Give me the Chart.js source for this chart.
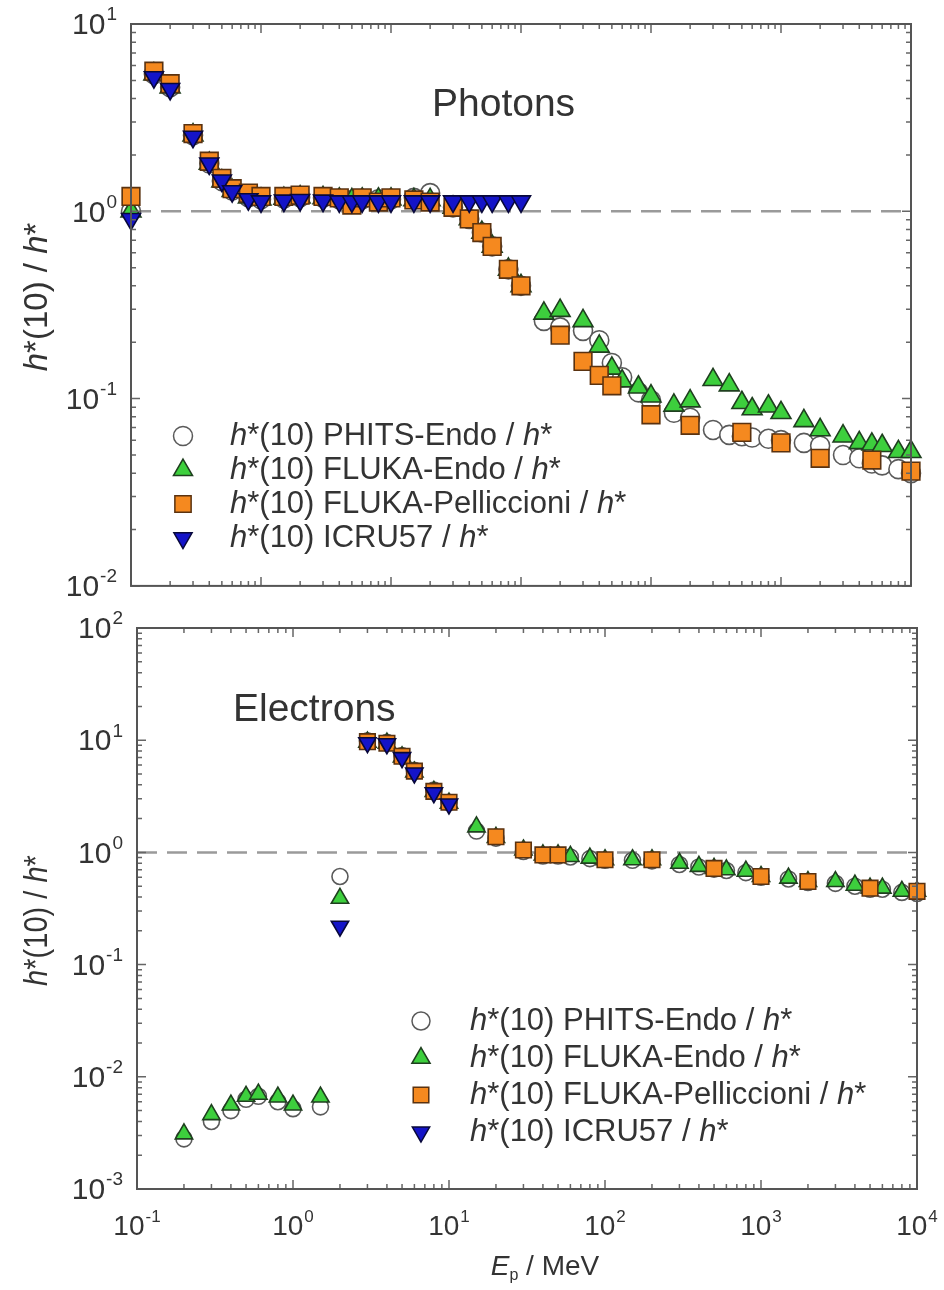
<!DOCTYPE html>
<html>
<head>
<meta charset="utf-8">
<script src="https://cdn.jsdelivr.net/npm/chart.js@4.4.0/dist/chart.umd.min.js"></script>
<style>
  body { margin: 0; background: #fff; }
  #wrap { position: relative; width: 944px; height: 1290px; }
  canvas { position: absolute; left: 0; }
  #photonChart { top: 0; }
  #electronChart { top: 600px; }
</style>
</head>
<body>
<div id="wrap">
  <canvas id="photonChart" width="944" height="600"></canvas>
  <canvas id="electronChart" width="944" height="690"></canvas>
</div>
<script>
// ---- data ----
const seriesNames = ['PHITS-Endo', 'FLUKA-Endo', 'FLUKA-Pelliccioni', 'ICRU57'];

const photonE = [0.01, 0.015, 0.02, 0.03, 0.04, 0.05, 0.06, 0.08,
  0.1, 0.15, 0.2, 0.3, 0.4, 0.5, 0.6, 0.8,
  1, 1.5, 2, 3, 4, 5, 6, 8,
  10, 15, 20, 30, 40, 50, 60, 80,
  100, 150, 200, 300, 400, 500, 600, 800,
  1000, 1500, 2000, 3000, 4000, 5000, 6000, 8000,
  10000];
const photonPhits = [1.0, 5.4, 4.6, 2.55, 1.8, 1.45, 1.29, 1.19,
  1.16, 1.17, 1.19, 1.18, 1.16, 1.15, 1.16, 1.16,
  1.16, 1.18, 1.25, 1.05, 0.91, 0.77, 0.65, 0.49,
  0.40, 0.26, 0.24, 0.23, 0.205, 0.155, 0.13, 0.108,
  0.098, 0.084, 0.079, 0.068, 0.064, 0.063, 0.062, 0.061,
  0.060, 0.058, 0.056, 0.050, 0.048, 0.045, 0.044, 0.042,
  0.040];
const photonFlukaEndo = [1.0, 5.4, 4.6, 2.55, 1.8, 1.45, 1.29, 1.19,
  1.16, 1.17, 1.19, 1.18, 1.16, 1.15, 1.16, 1.16,
  1.16, 1.15, 1.15, 1.05, 0.91, 0.77, 0.65, 0.49,
  0.40, 0.285, 0.295, 0.26, 0.19, 0.145, 0.124, 0.115,
  0.103, 0.092, 0.097, 0.126, 0.118, 0.095, 0.088, 0.091,
  0.084, 0.076, 0.068, 0.063, 0.058, 0.057, 0.056, 0.052,
  0.052];
const photonPelliccioni = [1.2, 5.6, 4.8, 2.6, 1.85, 1.5, 1.32, 1.25,
  1.2, 1.2, 1.22, 1.2, 1.18, 1.08, 1.18, 1.12,
  1.18, 1.15, 1.12, 1.05, 0.91, 0.77, 0.65, 0.49,
  0.40, null, 0.218, 0.158, 0.133, 0.117, null, null,
  0.082, null, 0.072, null, null, 0.066, null, null,
  0.058, null, 0.048, null, null, 0.047, null, null,
  0.041];
const photonIcru57 = [0.91, 5.2, 4.5, 2.5, 1.8, 1.46, 1.28, 1.16,
  1.13, 1.14, 1.15, 1.14, 1.13, 1.13, 1.13, 1.13,
  1.13, 1.13, 1.13, 1.13, 1.13, 1.13, 1.13, 1.13,
  1.13];

const electronE = [0.2, 0.3, 0.4, 0.5, 0.6, 0.8, 1, 1.5,
  2, 3, 4, 5, 6, 8, 10,
  15, 20, 30, 40, 50, 60, 80,
  100, 150, 200, 300, 400, 500, 600, 800,
  1000, 1500, 2000, 3000, 4000, 5000, 6000, 8000,
  10000];
const electronPhits = [0.0028, 0.0040, 0.0050, 0.0063, 0.0067, 0.0060, 0.0052, 0.0054,
  0.61, 9.9, 9.6, 7.3, 5.4, 3.6, 2.8,
  1.55, 1.34, 1.02, 0.93, 0.93, 0.91, 0.88,
  0.85, 0.85, 0.84, 0.78, 0.74, 0.71, 0.69, 0.66,
  0.60, 0.58, 0.54, 0.53, 0.50, 0.47, 0.47, 0.44,
  0.43];
const electronFlukaEndo = [0.0031, 0.0046, 0.0056, 0.0067, 0.0070, 0.0066, 0.0056, 0.0066,
  0.39, 9.6, 9.4, 7.1, 5.2, 3.5, 2.75,
  1.69, 1.36, 1.05, 0.95, 0.95, 0.92, 0.89,
  0.86, 0.86, 0.86, 0.80, 0.75, 0.72, 0.70, 0.68,
  0.61, 0.59, 0.55, 0.55, 0.51, 0.48, 0.48, 0.45,
  0.45];
const electronPelliccioni = [null, null, null, null, null, null, null, null,
  null, 9.7, 9.4, 7.2, 5.3, 3.5, 2.8,
  null, 1.38, 1.05, 0.95, 0.95, null, null,
  0.86, null, 0.86, null, null, 0.72, null, null,
  0.61, null, 0.55, null, null, 0.48, null, null,
  0.45];
const electronIcru57 = [null, null, null, null, null, null, null, null,
  0.22, 9.5, 9.3, 7.0, 5.1, 3.4, 2.7];

// ---- styling ----
const FONT = '"Liberation Sans", Arial, sans-serif';
const TEXT = '#333';
const markers = [
  { style: 'circle',   rot: 0,   fill: '#ffffff', edge: '#5a5a5a' },
  { style: 'triangle', rot: 0,   fill: '#3dcf3d', edge: '#1f3f1f' },
  { style: 'rect',     rot: 0,   fill: '#f5891f', edge: '#5a3210' },
  { style: 'triangle', rot: 180, fill: '#1414c8', edge: '#08083a' }
];

function points(xs, ys) {
  return xs.map((x, i) => ({ x: x, y: ys[i] }))
    .filter(p => p.y !== null && p.y !== undefined);
}

function makeDatasets(xs, seriesList, radii) {
  return seriesList.map((ys, i) => ({
    label: seriesNames[i],
    data: points(xs, ys),
    pointStyle: markers[i].style,
    pointRotation: markers[i].rot,
    pointRadius: radii[i],
    pointBackgroundColor: markers[i].fill,
    pointBorderColor: markers[i].edge,
    pointBorderWidth: 1.6,
    showLine: false,
    clip: false,
    order: 4 - i
  }));
}

function drawPow(ctx, exp, x, y, align, size) {
  const sup = String(exp);
  ctx.textBaseline = 'middle';
  ctx.textAlign = 'left';
  ctx.font = size + 'px ' + FONT;
  const wb = ctx.measureText('10').width;
  const supSize = Math.round(size * 0.62);
  ctx.font = supSize + 'px ' + FONT;
  const ws = ctx.measureText(sup).width;
  const total = wb + ws + 1;
  const x0 = align === 'right' ? x - total : x - total / 2;
  ctx.font = size + 'px ' + FONT;
  ctx.fillText('10', x0, y);
  ctx.font = supSize + 'px ' + FONT;
  ctx.fillText(sup, x0 + wb + 1, y - size * 0.36);
}

function richWidth(ctx, parts, size) {
  let w = 0;
  parts.forEach(p => {
    ctx.font = (p.it ? 'italic ' : '') + (p.size || size) + 'px ' + FONT;
    w += ctx.measureText(p.t).width;
  });
  return w;
}

function drawRich(ctx, parts, x, y, size) {
  ctx.textAlign = 'left';
  ctx.textBaseline = 'middle';
  let cx = x;
  parts.forEach(p => {
    ctx.font = (p.it ? 'italic ' : '') + (p.size || size) + 'px ' + FONT;
    ctx.fillText(p.t, cx, y + (p.dy || 0));
    cx += ctx.measureText(p.t).width;
  });
}

function legendParts(name) {
  return [{ t: 'h', it: true }, { t: '*(10) ' + name + ' / ' }, { t: 'h', it: true }, { t: '*' }];
}

// frame, inward ticks, tick labels, titles and legend
function decorations(cfg) {
  return {
    id: 'decor',
    beforeDatasetsDraw(chart) {
      const ctx = chart.ctx, a = chart.chartArea, y = chart.scales.y;
      const py = y.getPixelForValue(1);
      ctx.save();
      ctx.strokeStyle = '#9a9a9a';
      ctx.lineWidth = 2.5;
      ctx.setLineDash([20, 10]);
      ctx.beginPath();
      ctx.moveTo(a.left, py);
      ctx.lineTo(a.right, py);
      ctx.stroke();
      ctx.restore();
    },
    afterDraw(chart) {
      const ctx = chart.ctx, a = chart.chartArea;
      const xs = chart.scales.x, ys = chart.scales.y;
      ctx.save();

      // ticks on all four sides
      ctx.strokeStyle = '#666';
      ctx.lineWidth = 1.5;
      const tickSet = (scale) => {
        const out = [];
        const lo = Math.floor(Math.log10(scale.min)), hi = Math.ceil(Math.log10(scale.max));
        for (let n = lo; n <= hi; n++) {
          for (let k = 1; k <= 9; k++) {
            const v = k * Math.pow(10, n);
            if (v >= scale.min * 0.999 && v <= scale.max * 1.001) {
              out.push({ v: v, major: k === 1, exp: n });
            }
          }
        }
        return out;
      };
      ctx.beginPath();
      tickSet(xs).forEach(t => {
        const px = xs.getPixelForValue(t.v), len = t.major ? 9 : 5;
        ctx.moveTo(px, a.bottom); ctx.lineTo(px, a.bottom - len);
        ctx.moveTo(px, a.top); ctx.lineTo(px, a.top + len);
      });
      tickSet(ys).forEach(t => {
        const py = ys.getPixelForValue(t.v), len = t.major ? 9 : 5;
        ctx.moveTo(a.left, py); ctx.lineTo(a.left + len, py);
        ctx.moveTo(a.right, py); ctx.lineTo(a.right - len, py);
      });
      ctx.stroke();

      // frame
      ctx.strokeStyle = '#555';
      ctx.lineWidth = 2;
      ctx.strokeRect(a.left, a.top, a.right - a.left, a.bottom - a.top);

      // tick labels
      ctx.fillStyle = TEXT;
      tickSet(ys).filter(t => t.major).forEach(t => {
        drawPow(ctx, t.exp, a.left - 14, ys.getPixelForValue(t.v) + 2, 'right', 30);
      });
      if (cfg.xLabels) {
        tickSet(xs).filter(t => t.major).forEach(t => {
          drawPow(ctx, t.exp, xs.getPixelForValue(t.v), a.bottom + 38, 'center', 28);
        });
        const xt = [{ t: 'E', it: true }, { t: 'p', size: 16, dy: 9 }, { t: ' / MeV' }];
        const w = richWidth(ctx, xt, 28);
        drawRich(ctx, xt, cfg.xTitleX - w / 2, a.bottom + 78, 28);
      }

      // y axis title
      const yt = [{ t: 'h', it: true }, { t: '*(10) / ' }, { t: 'h', it: true }, { t: '*' }];
      ctx.save();
      ctx.translate(38, (a.top + a.bottom) / 2 + cfg.yTitleDy);
      ctx.rotate(-Math.PI / 2);
      ctx.scale(cfg.yTitleSqueeze, 1);
      const wy = richWidth(ctx, yt, cfg.yTitleSize);
      drawRich(ctx, yt, -wy / 2, 0, cfg.yTitleSize);
      ctx.restore();

      // panel label
      ctx.font = '39px ' + FONT;
      ctx.textAlign = 'left';
      ctx.textBaseline = 'middle';
      ctx.fillText(cfg.panel, cfg.panelX, cfg.panelY);

      // legend
      seriesNames.forEach((name, i) => {
        const ly = cfg.legY + i * cfg.legStep;
        const m = markers[i];
        ctx.fillStyle = m.fill;
        ctx.strokeStyle = m.edge;
        ctx.lineWidth = 1.5;
        Chart.helpers.drawPoint(ctx, {
          pointStyle: m.style, rotation: m.rot, radius: cfg.legRadii[i], borderWidth: 1.5
        }, cfg.legX, ly);
        ctx.fillStyle = TEXT;
        drawRich(ctx, legendParts(name), cfg.legTextX, ly, cfg.legSize);
      });
      ctx.restore();
    }
  };
}

function buildChart(id, xs, series, xMin, xMax, yMin, yMax, padding, cfg) {
  return new Chart(document.getElementById(id), {
    type: 'scatter',
    data: { datasets: makeDatasets(xs, series, cfg.radii) },
    options: {
      responsive: false,
      animation: false,
      events: [],
      layout: { padding: padding },
      plugins: { legend: { display: false }, tooltip: { enabled: false } },
      scales: {
        x: { type: 'logarithmic', min: xMin, max: xMax, display: false },
        y: { type: 'logarithmic', min: yMin, max: yMax, display: false }
      }
    },
    plugins: [decorations(cfg)]
  });
}

buildChart('photonChart', photonE,
  [photonPhits, photonFlukaEndo, photonPelliccioni, photonIcru57],
  0.01, 10000, 0.01, 10,
  { left: 131, top: 24, right: 33, bottom: 11 },
  { panel: 'Photons', panelX: 432, panelY: 105, xLabels: false,
    yTitleSize: 33, yTitleSqueeze: 1, yTitleDy: -8,
    radii: [9.5, 11.5, 12.5, 11], legRadii: [9.5, 11, 11.5, 10.5],
    legX: 183, legTextX: 230, legY: 436, legStep: 34, legSize: 31 });

buildChart('electronChart', electronE,
  [electronPhits, electronFlukaEndo, electronPelliccioni, electronIcru57],
  0.1, 10000, 0.001, 100,
  { left: 137, top: 28, right: 27, bottom: 101 },
  { panel: 'Electrons', panelX: 233, panelY: 110, xLabels: true, xTitleX: 545,
    yTitleSize: 33, yTitleSqueeze: 0.88, yTitleDy: 12,
    radii: [8, 10, 11, 10], legRadii: [9, 10.5, 11, 10],
    legX: 421, legTextX: 470, legY: 421, legStep: 37, legSize: 31 });
</script>
</body>
</html>
